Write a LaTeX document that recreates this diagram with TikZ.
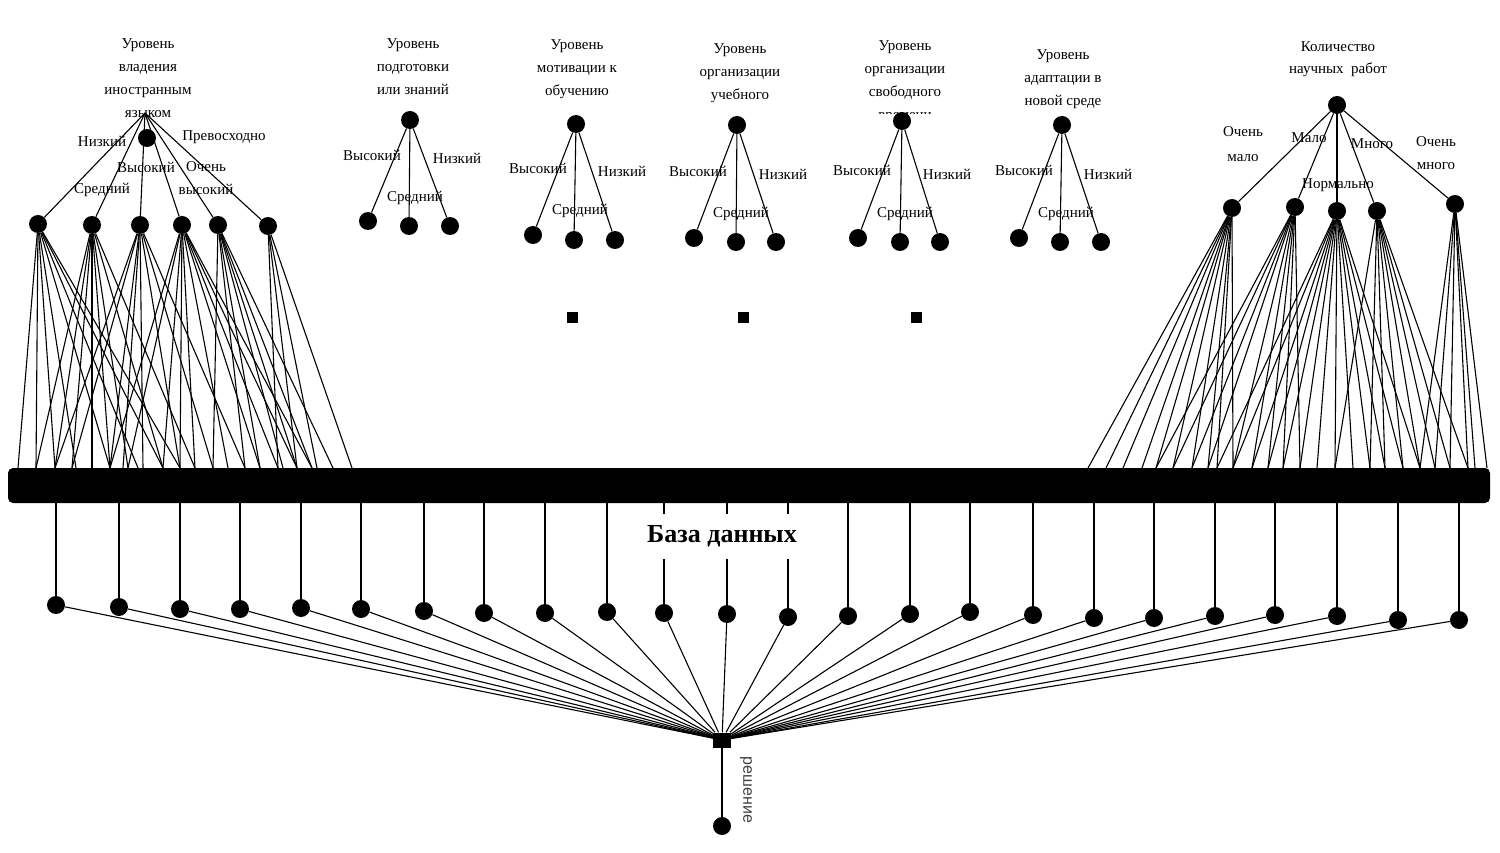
\documentclass[tikz,border=0pt]{standalone}
\usepackage{fontspec}
\setmainfont{Liberation Serif}
\newfontfamily\sansf{Liberation Sans}
\begin{document}
\begin{tikzpicture}[x=1pt,y=-1pt,
  dot/.style={circle,fill=black,inner sep=0pt,minimum size=18pt},
  sq/.style={rectangle,fill=black,inner sep=0pt,minimum size=11pt},
  lbl/.style={font=\fontsize{15}{17}\selectfont,inner sep=0pt},
  ttl/.style={font=\fontsize{15}{23}\selectfont,align=center,inner sep=0pt},
  edge/.style={line width=1.1pt},
]
\useasboundingbox (0,0) rectangle (1500,853);

% ---------- left group ----------
\node[ttl] (Lt) at (148,78) {Уровень\\владения\\иностранным\\языком};
\coordinate (Lh) at (145,113);
\node[dot] (L) at (147,138) {};
\foreach \n/\x/\y in {1/38/224,2/92/225,3/140/225,4/182/225,5/218/225,6/268/226}
  \node[dot] (L\n) at (\x,\y) {};
\foreach \n in {1,...,6} \draw[edge] (Lh) -- (L\n);
\node[lbl] at (102,141) {Низкий};
\node[lbl] at (224,137) {Превосходно};
\node[lbl] at (146,167) {Высокий};
\node[lbl,align=center,font=\fontsize{15}{23}\selectfont] at (206,178) {Очень\\высокий};
\node[lbl] at (102,190) {Средний};

% ---------- right group ----------
\node[ttl,font=\fontsize{15}{22}\selectfont] (Rt) at (1338,59) {Количество\\научных\ \ работ};
\node[dot] (R) at (1337,105) {};
\foreach \n/\x/\y in {1/1232/208,2/1295/207,3/1337/211,4/1377/211,5/1455/204}
  \node[dot] (R\n) at (\x,\y) {};
\foreach \n in {1,...,5} \draw[edge] (R) -- (R\n);
\node[lbl,align=center,font=\fontsize{15}{25}\selectfont] at (1243,144) {Очень\\мало};
\node[lbl] at (1309,138) {Мало};
\node[lbl] at (1372,144) {Много};
\node[lbl,align=center,font=\fontsize{15}{23}\selectfont] at (1436,153) {Очень\\много};
\node[lbl] at (1338,185) {Нормально};

% ---------- middle trees ----------
\node[ttl] at (413,67) {Уровень\\подготовки\\или знаний};
\node[ttl] at (577,69) {Уровень\\мотивации к\\обучению};
\node[ttl] at (740,73) {Уровень\\организации\\учебного};
\begin{scope}
  \clip (840,30) rectangle (970,114);
  \node[ttl] at (905,82) {Уровень\\организации\\свободного\\времени};
\end{scope}
\node[ttl] at (1063,79) {Уровень\\адаптации в\\новой среде};

\foreach \k/\rx/\ry/\ax/\ay/\bx/\by/\cx/\cy/\hx/\hy/\lx/\ly/\mx/\my in {
  1/410/120/368/221/409/226/450/226/372/155/457/158/415/198,
  2/576/124/533/235/574/240/615/240/538/168/622/171/580/211,
  3/737/125/694/238/736/242/776/242/698/171/783/174/741/214,
  4/902/121/858/238/900/242/940/242/862/170/947/174/905/214,
  5/1062/125/1019/238/1060/242/1101/242/1024/170/1108/174/1066/214}{
  \node[dot] (T\k) at (\rx,\ry) {};
  \node[dot] (T\k a) at (\ax,\ay) {};
  \node[dot] (T\k b) at (\bx,\by) {};
  \node[dot] (T\k c) at (\cx,\cy) {};
  \draw[edge] (T\k) -- (T\k a);
  \draw[edge] (T\k) -- (T\k b);
  \draw[edge] (T\k) -- (T\k c);
  \node[lbl] at (\hx,\hy) {Высокий};
  \node[lbl] at (\lx,\ly) {Низкий};
  \node[lbl] at (\mx,\my) {Средний};
}

\node[sq] (s1) at (572,317) {};
\node[sq] (s2) at (743,317) {};
\node[sq] (s3) at (916,317) {};

% ---------- lines to the database bar ----------
\foreach \x in {18,36,55,72,76,92,110,123,128,138,143,163,180,195,213,228,245,260,278,283,297,312,317,333,352,
  1088,1106,1123,1142,1156,1173,1192,1208,1217,1233,1252,1268,1283,1300,1317,1335,1353,1370,1385,1403,1420,1435,1450,1468,1475,1487}
  \coordinate (p\x) at (\x,468);

\foreach \c/\lst in {
  L1/{18,36,55,76,110,138,163,180},
  L2/{36,55,72,92,110,128,163,195},
  L3/{55,72,110,123,143,180,213,245},
  L4/{110,128,163,180,195,228,260,278,297,312},
  L5/{213,245,260,283,297,312,333},
  L6/{278,297,317,352},
  R1/{1088,1106,1123,1142,1156,1173,1192,1208,1217,1233},
  R2/{1156,1173,1192,1208,1233,1252,1268,1283,1300},
  R3/{1217,1233,1252,1268,1283,1300,1317,1335,1353,1370,1385,1403,1420},
  R4/{1335,1370,1385,1403,1420,1435,1450,1468},
  R5/{1420,1435,1450,1468,1475,1487}}{
  \foreach \x in \lst \draw[edge] (\c) -- (p\x);
}

\node[fill=black,rounded corners=5pt,minimum width=1482pt,minimum height=35pt,inner sep=0pt] (bar) at (749,485.5) {};

% ---------- bottom ----------
\node[rectangle,fill=black,inner sep=0pt,minimum width=18pt,minimum height=15pt] (dec) at (722,740) {};
\foreach \n/\x/\y in {1/56/605,2/119/607,3/180/609,4/240/609,5/301/608,6/361/609,7/424/611,8/484/613,
  9/545/613,10/607/612,11/664/613,12/727/614,13/788/617,14/848/616,15/910/614,16/970/612,
  17/1033/615,18/1094/618,19/1154/618,20/1215/616,21/1275/615,22/1337/616,23/1398/620,24/1459/620}{
  \node[dot] (b\n) at (\x,\y) {};
  \draw[edge] (bar.south -| b\n) -- (b\n);
  \draw[edge] (b\n) -- (dec);
}
\node[fill=white,inner sep=4pt,minimum height=45pt,font=\bfseries\fontsize{26}{26}\selectfont] (db) at (722,536) {База данных};

\node[dot] (fin) at (722,826) {};
\draw[edge] (dec) -- (fin);
\node[rotate=-90,font=\sansf\fontsize{16}{16}\selectfont,text=black!75,inner sep=0pt] (dl) at (746,790) {решение};
\end{tikzpicture}
\end{document}
